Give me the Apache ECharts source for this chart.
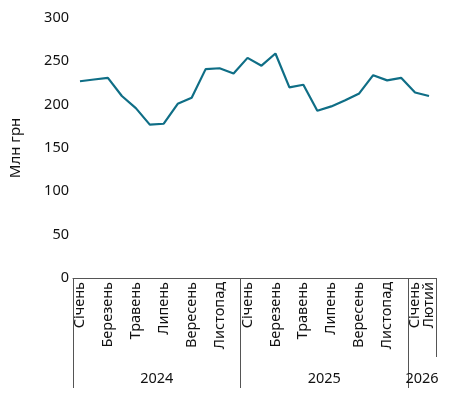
<!DOCTYPE html>
<html>
<head>
<meta charset="utf-8">
<script src="https://cdn.jsdelivr.net/npm/echarts@6/dist/echarts.min.js"></script>
<style>
html,body{margin:0;padding:0;background:#fff;}
#chart{width:449px;height:396px;}
</style>
</head>
<body>
<div id="chart"></div>
<script>
var months = ['Січень','Лютий','Березень','Квітень','Травень','Червень','Липень','Серпень','Вересень','Жовтень','Листопад','Грудень',
	'Січень','Лютий','Березень','Квітень','Травень','Червень','Липень','Серпень','Вересень','Жовтень','Листопад','Грудень',
	'Січень','Лютий'];
var values = [227, 229, 231, 210, 196, 177, 178, 201, 208, 241, 242, 236,
	254, 245, 259, 220, 223, 193, 198, 205, 213, 234, 228, 231, 214, 210];
// year labels sit on month boundaries: 6, 18, 25
var yearLabels = ['', '', '', '', '', '', '2024', '', '', '', '', '', '',
	'', '', '', '', '', '2025', '', '', '', '', '', '', '2026', ''];
var yTicks = [0, 50, 100, 150, 200, 250, 300];

var chart = echarts.init(document.getElementById('chart'));
var axisColor = '#555';
var textColor = '#111';
var font = 'Noto Sans';

function monthLabel(showFn) {
	return {
		rotate: 90,
		margin: 4,
		color: textColor,
		fontFamily: font,
		fontSize: 14.5,
		hideOverlap: false,
		showMinLabel: true,
		showMaxLabel: true,
		interval: showFn
	};
}

var option = {
	animation: false,
	grid: {left: 72, right: 13, top: 18, bottom: 118},
	xAxis: [
		{
			type: 'category',
			data: months,
			boundaryGap: true,
			axisLine: {show: true, lineStyle: {color: axisColor, width: 1}},
			axisTick: {
				show: true,
				length: 79,
				lineStyle: {color: axisColor},
				interval: function (idx) { return idx % 12 === 0; }
			},
			axisLabel: monthLabel(function (idx) { return idx % 2 === 0 && idx < 25; })
		},
		{
			type: 'category',
			data: yearLabels,
			boundaryGap: false,
			position: 'bottom',
			offset: 79,
			axisLine: {show: false},
			axisTick: {
				show: true,
				length: 31,
				lineStyle: {color: axisColor},
				interval: function (idx) { return idx % 12 === 0 && idx < 26; }
			},
			axisLabel: {
				margin: 14,
				color: textColor,
				fontFamily: font,
				fontSize: 14.5,
				hideOverlap: false,
				interval: function (idx, val) { return val !== ''; }
			}
		},
		{
			// last month gets its own axis so the crowded pair both stay visible
			type: 'category',
			data: months,
			boundaryGap: true,
			position: 'bottom',
			offset: 0,
			axisLine: {show: false},
			axisTick: {show: false},
			axisLabel: monthLabel(function (idx) { return idx === 25; })
		}
	],
	yAxis: {
		type: 'value',
		min: yTicks[0],
		max: yTicks[yTicks.length - 1],
		interval: 50,
		name: 'Млн грн',
		nameLocation: 'middle',
		nameGap: 50,
		nameTextStyle: {color: textColor, fontFamily: font, fontSize: 15},
		axisLine: {show: false},
		axisTick: {show: false},
		splitLine: {show: false},
		axisLabel: {color: textColor, fontFamily: font, fontSize: 14.5, margin: 4}
	},
	series: [{
		type: 'line',
		data: values,
		xAxisIndex: 0,
		symbol: 'none',
		lineStyle: {color: '#0f6e86', width: 2.2}
	}]
};
chart.setOption(option);
</script>
</body>
</html>
